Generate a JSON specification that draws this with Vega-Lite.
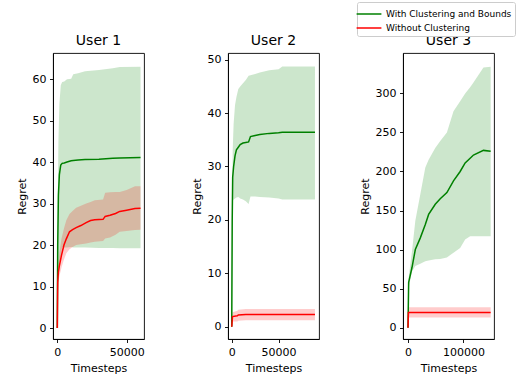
{
  "$schema": "https://vega.github.io/schema/vega-lite/v6.json",
  "padding": {"left": 15, "top": 1, "right": 0, "bottom": 3},
  "background": "white",
  "config": {
    "font": "DejaVu Sans",
    "view": {"stroke": "black", "strokeWidth": 0.9},
    "axis": {
      "grid": false,
      "labelFont": "DejaVu Sans",
      "labelFontSize": 11,
      "labelColor": "black",
      "titleFont": "DejaVu Sans",
      "titleFontSize": 11,
      "titleFontWeight": "normal",
      "titleColor": "black",
      "tickColor": "black",
      "tickSize": 3.5,
      "tickWidth": 0.9,
      "domainColor": "black",
      "domainWidth": 0.9,
      "labelPadding": 3.5,
      "labelFlush": false,
      "labelOverlap": false
    },
    "title": {"font": "DejaVu Sans", "fontSize": 14, "fontWeight": "normal", "color": "black", "offset": 5},
    "legend": {
      "labelFont": "DejaVu Sans",
      "labelFontSize": 9,
      "labelColor": "black",
      "symbolType": "M-1.55,0H1.55",
      "symbolSize": 256,
      "symbolStrokeWidth": 1.5,
      "labelOffset": 8,
      "strokeColor": "#cccccc",
      "fillColor": "white",
      "cornerRadius": 2,
      "padding": 3,
      "rowPadding": 0
    }
  },
  "datasets": {
    "user1": [
      {"series": "With Clustering and Bounds", "t": 0, "y": 0, "lo": 0, "hi": 0},
      {"series": "With Clustering and Bounds", "t": 300, "y": 20, "lo": 12, "hi": 30},
      {"series": "With Clustering and Bounds", "t": 800, "y": 32, "lo": 14, "hi": 45},
      {"series": "With Clustering and Bounds", "t": 1500, "y": 37, "lo": 15.5, "hi": 54},
      {"series": "With Clustering and Bounds", "t": 2500, "y": 39.3, "lo": 17.5, "hi": 58.5},
      {"series": "With Clustering and Bounds", "t": 3500, "y": 39.7, "lo": 19.5, "hi": 59.3},
      {"series": "With Clustering and Bounds", "t": 5000, "y": 39.8, "lo": 19.4, "hi": 59.4},
      {"series": "With Clustering and Bounds", "t": 7000, "y": 40.0, "lo": 19.4, "hi": 60.0},
      {"series": "With Clustering and Bounds", "t": 10000, "y": 40.3, "lo": 19.5, "hi": 60.1},
      {"series": "With Clustering and Bounds", "t": 11500, "y": 40.4, "lo": 19.4, "hi": 61.2},
      {"series": "With Clustering and Bounds", "t": 15000, "y": 40.5, "lo": 19.4, "hi": 61.4},
      {"series": "With Clustering and Bounds", "t": 20000, "y": 40.6, "lo": 19.4, "hi": 61.9},
      {"series": "With Clustering and Bounds", "t": 30000, "y": 40.7, "lo": 19.3, "hi": 62.2},
      {"series": "With Clustering and Bounds", "t": 40000, "y": 40.9, "lo": 19.3, "hi": 62.6},
      {"series": "With Clustering and Bounds", "t": 45000, "y": 41.0, "lo": 19.2, "hi": 62.9},
      {"series": "With Clustering and Bounds", "t": 60000, "y": 41.1, "lo": 19.2, "hi": 63.0},
      {"series": "Without Clustering", "t": 0, "y": 0, "lo": 0, "hi": 0},
      {"series": "Without Clustering", "t": 300, "y": 11, "lo": 8.5, "hi": 13},
      {"series": "Without Clustering", "t": 800, "y": 13.5, "lo": 11, "hi": 15.5},
      {"series": "Without Clustering", "t": 1500, "y": 15, "lo": 12.5, "hi": 18},
      {"series": "Without Clustering", "t": 3000, "y": 17.5, "lo": 14.5, "hi": 21.5},
      {"series": "Without Clustering", "t": 4800, "y": 20, "lo": 16.5, "hi": 24},
      {"series": "Without Clustering", "t": 6500, "y": 21.5, "lo": 18, "hi": 26},
      {"series": "Without Clustering", "t": 8800, "y": 23.2, "lo": 19, "hi": 27.5},
      {"series": "Without Clustering", "t": 11000, "y": 23.7, "lo": 19.5, "hi": 28.2},
      {"series": "Without Clustering", "t": 13600, "y": 24.2, "lo": 20, "hi": 29},
      {"series": "Without Clustering", "t": 17000, "y": 24.7, "lo": 20.2, "hi": 29.5},
      {"series": "Without Clustering", "t": 20800, "y": 25.4, "lo": 20.4, "hi": 30},
      {"series": "Without Clustering", "t": 24000, "y": 25.9, "lo": 20.6, "hi": 30.4},
      {"series": "Without Clustering", "t": 27000, "y": 26.1, "lo": 20.8, "hi": 30.8},
      {"series": "Without Clustering", "t": 33000, "y": 26.2, "lo": 21, "hi": 31},
      {"series": "Without Clustering", "t": 34500, "y": 26.9, "lo": 21.6, "hi": 32.6},
      {"series": "Without Clustering", "t": 38000, "y": 27.2, "lo": 21.8, "hi": 32.7},
      {"series": "Without Clustering", "t": 42000, "y": 27.6, "lo": 22.5, "hi": 32.8},
      {"series": "Without Clustering", "t": 45000, "y": 28.1, "lo": 23.2, "hi": 32.8},
      {"series": "Without Clustering", "t": 50000, "y": 28.4, "lo": 23.4, "hi": 33.3},
      {"series": "Without Clustering", "t": 56000, "y": 28.8, "lo": 23.6, "hi": 34.2},
      {"series": "Without Clustering", "t": 60000, "y": 28.9, "lo": 23.7, "hi": 34.2}
    ],
    "user2": [
      {"series": "With Clustering and Bounds", "t": 0, "y": 0, "lo": 0, "hi": 0},
      {"series": "With Clustering and Bounds", "t": 500, "y": 20, "lo": 18, "hi": 24},
      {"series": "With Clustering and Bounds", "t": 1000, "y": 28, "lo": 23.6, "hi": 33},
      {"series": "With Clustering and Bounds", "t": 2000, "y": 30, "lo": 23.8, "hi": 38},
      {"series": "With Clustering and Bounds", "t": 3500, "y": 32, "lo": 24, "hi": 41.5},
      {"series": "With Clustering and Bounds", "t": 5000, "y": 33.1, "lo": 24.2, "hi": 43},
      {"series": "With Clustering and Bounds", "t": 7000, "y": 33.6, "lo": 24.3, "hi": 44.5},
      {"series": "With Clustering and Bounds", "t": 9000, "y": 34.1, "lo": 24.0, "hi": 45},
      {"series": "With Clustering and Bounds", "t": 12000, "y": 34.4, "lo": 23.8, "hi": 45.6},
      {"series": "With Clustering and Bounds", "t": 15000, "y": 34.5, "lo": 23.5, "hi": 46.2},
      {"series": "With Clustering and Bounds", "t": 18000, "y": 34.6, "lo": 23.0, "hi": 47.0},
      {"series": "With Clustering and Bounds", "t": 20000, "y": 35.6, "lo": 24.4, "hi": 47.1},
      {"series": "With Clustering and Bounds", "t": 25000, "y": 35.8, "lo": 24.4, "hi": 47.3},
      {"series": "With Clustering and Bounds", "t": 30000, "y": 36.0, "lo": 24.3, "hi": 47.6},
      {"series": "With Clustering and Bounds", "t": 40000, "y": 36.2, "lo": 24.2, "hi": 48.0},
      {"series": "With Clustering and Bounds", "t": 50000, "y": 36.3, "lo": 24.0, "hi": 48.2},
      {"series": "With Clustering and Bounds", "t": 54000, "y": 36.4, "lo": 23.8, "hi": 48.7},
      {"series": "With Clustering and Bounds", "t": 70000, "y": 36.4, "lo": 23.8, "hi": 48.7},
      {"series": "With Clustering and Bounds", "t": 88900, "y": 36.4, "lo": 23.8, "hi": 48.7},
      {"series": "Without Clustering", "t": 0, "y": 0, "lo": 0, "hi": 0},
      {"series": "Without Clustering", "t": 800, "y": 1.9, "lo": 1.0, "hi": 2.7},
      {"series": "Without Clustering", "t": 6000, "y": 2.05, "lo": 1.0, "hi": 3.0},
      {"series": "Without Clustering", "t": 7000, "y": 2.2, "lo": 1.1, "hi": 3.2},
      {"series": "Without Clustering", "t": 15000, "y": 2.3, "lo": 1.2, "hi": 3.3},
      {"series": "Without Clustering", "t": 88900, "y": 2.3, "lo": 1.2, "hi": 3.3}
    ],
    "user3": [
      {"series": "With Clustering and Bounds", "t": 0, "y": 0, "lo": 0, "hi": 0},
      {"series": "With Clustering and Bounds", "t": 1200, "y": 58, "lo": 51, "hi": 64},
      {"series": "With Clustering and Bounds", "t": 7200, "y": 77, "lo": 72, "hi": 98},
      {"series": "With Clustering and Bounds", "t": 13200, "y": 100, "lo": 79, "hi": 137},
      {"series": "With Clustering and Bounds", "t": 22200, "y": 115, "lo": 82, "hi": 171},
      {"series": "With Clustering and Bounds", "t": 31200, "y": 132, "lo": 85, "hi": 205},
      {"series": "With Clustering and Bounds", "t": 37200, "y": 145, "lo": 86, "hi": 215},
      {"series": "With Clustering and Bounds", "t": 49100, "y": 158, "lo": 87.5, "hi": 230},
      {"series": "With Clustering and Bounds", "t": 58100, "y": 165, "lo": 88, "hi": 239},
      {"series": "With Clustering and Bounds", "t": 70100, "y": 173, "lo": 90, "hi": 250},
      {"series": "With Clustering and Bounds", "t": 82000, "y": 188, "lo": 96, "hi": 277},
      {"series": "With Clustering and Bounds", "t": 94000, "y": 200, "lo": 102, "hi": 290},
      {"series": "With Clustering and Bounds", "t": 103000, "y": 211, "lo": 113, "hi": 300},
      {"series": "With Clustering and Bounds", "t": 112000, "y": 217, "lo": 117, "hi": 308},
      {"series": "With Clustering and Bounds", "t": 118000, "y": 221, "lo": 117, "hi": 314},
      {"series": "With Clustering and Bounds", "t": 136000, "y": 227, "lo": 117, "hi": 333},
      {"series": "With Clustering and Bounds", "t": 149000, "y": 226, "lo": 117, "hi": 334},
      {"series": "Without Clustering", "t": 0, "y": 0, "lo": 0, "hi": 0},
      {"series": "Without Clustering", "t": 800, "y": 19.5, "lo": 13, "hi": 26},
      {"series": "Without Clustering", "t": 149000, "y": 19.5, "lo": 13, "hi": 26}
    ]
  },
  "spacing": 84,
  "bounds": "flush",
  "hconcat": [
    {
      "width": 91, "height": 286,
      "title": "User 1",
      "data": {"name": "user1"},
      "encoding": {
        "x": {"field": "t", "type": "quantitative", "scale": {"domain": [-3100, 62500], "nice": false, "zero": false},
              "axis": {"values": [0, 50000], "format": "d", "title": "Timesteps", "titlePadding": 5}}
      },
      "layer": [
        {"mark": {"type": "area", "opacity": 0.2, "clip": true},
         "encoding": {
           "y": {"field": "lo", "type": "quantitative", "scale": {"domain": [-2.65, 66.3], "nice": false, "zero": false},
                 "axis": {"values": [0, 10, 20, 30, 40, 50, 60], "format": "d", "title": "Regret", "titlePadding": 5}},
           "y2": {"field": "hi"},
           "fill": {"field": "series", "type": "nominal", "scale": {"domain": ["Without Clustering", "With Clustering and Bounds"], "range": ["#ff0000", "#008000"]}, "legend": null}
         }},
        {"mark": {"type": "line", "strokeWidth": 1.5, "clip": true},
         "encoding": {
           "y": {"field": "y", "type": "quantitative"},
           "stroke": {"field": "series", "type": "nominal", "scale": {"domain": ["With Clustering and Bounds", "Without Clustering"], "range": ["#008000", "#ff0000"]},
                     "legend": {"title": null, "orient": "none", "legendX": 304, "legendY": -51}}
         }}
      ]
    },
    {
      "width": 91, "height": 286,
      "title": "User 2",
      "data": {"name": "user2"},
      "encoding": {
        "x": {"field": "t", "type": "quantitative", "scale": {"domain": [-4000, 93200], "nice": false, "zero": false},
              "axis": {"values": [0, 50000], "format": "d", "title": "Timesteps", "titlePadding": 5}}
      },
      "layer": [
        {"mark": {"type": "area", "opacity": 0.2, "clip": true},
         "encoding": {
           "y": {"field": "lo", "type": "quantitative", "scale": {"domain": [-2.3, 51.25], "nice": false, "zero": false},
                 "axis": {"values": [0, 10, 20, 30, 40, 50], "format": "d", "title": "Regret", "titlePadding": 5}},
           "y2": {"field": "hi"},
           "fill": {"field": "series", "type": "nominal", "scale": {"domain": ["Without Clustering", "With Clustering and Bounds"], "range": ["#ff0000", "#008000"]}, "legend": null}
         }},
        {"mark": {"type": "line", "strokeWidth": 1.5, "clip": true},
         "encoding": {
           "y": {"field": "y", "type": "quantitative"},
           "stroke": {"field": "series", "type": "nominal", "scale": {"domain": ["With Clustering and Bounds", "Without Clustering"], "range": ["#008000", "#ff0000"]}}
         }}
      ]
    },
    {
      "width": 91, "height": 286,
      "title": "User 3",
      "data": {"name": "user3"},
      "encoding": {
        "x": {"field": "t", "type": "quantitative", "scale": {"domain": [-9000, 155000], "nice": false, "zero": false},
              "axis": {"values": [0, 100000], "format": "d", "title": "Timesteps", "titlePadding": 5}}
      },
      "layer": [
        {"mark": {"type": "area", "opacity": 0.2, "clip": true},
         "encoding": {
           "y": {"field": "lo", "type": "quantitative", "scale": {"domain": [-14.5, 351.7], "nice": false, "zero": false},
                 "axis": {"values": [0, 50, 100, 150, 200, 250, 300], "format": "d", "title": "Regret", "titlePadding": 5}},
           "y2": {"field": "hi"},
           "fill": {"field": "series", "type": "nominal", "scale": {"domain": ["Without Clustering", "With Clustering and Bounds"], "range": ["#ff0000", "#008000"]}, "legend": null}
         }},
        {"mark": {"type": "line", "strokeWidth": 1.5, "clip": true},
         "encoding": {
           "y": {"field": "y", "type": "quantitative"},
           "stroke": {"field": "series", "type": "nominal", "scale": {"domain": ["With Clustering and Bounds", "Without Clustering"], "range": ["#008000", "#ff0000"]}}
         }}
      ]
    }
  ]
}
